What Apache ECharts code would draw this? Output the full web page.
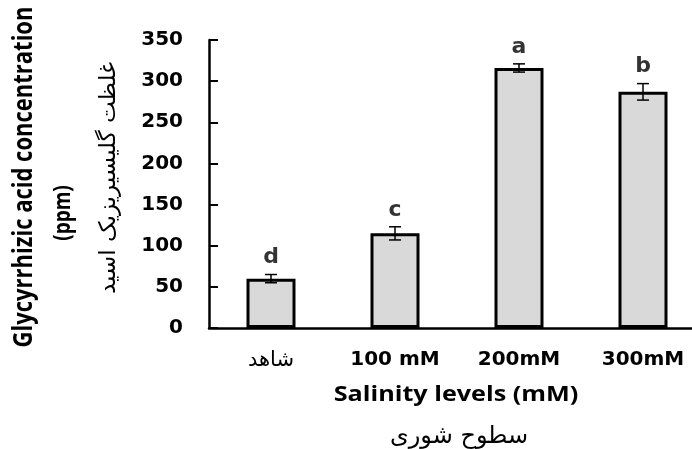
<!DOCTYPE html>
<html>
<head>
<meta charset="utf-8">
<script src="https://cdn.jsdelivr.net/npm/echarts@6/dist/echarts.min.js"></script>
<style>
html,body{margin:0;padding:0;background:#fff;}
#chart{width:692px;height:449px;}
</style>
</head>
<body>
<div id="chart"></div>
<script>
const categories = ['شاهد', '100 mM', '200mM', '300mM'];
const means = [60, 115, 316, 287];
const errors = [5, 8, 5, 10];
const letters = ['d', 'c', 'a', 'b'];
const yMin = 0, yMax = 350, yStep = 50;
const yTitleEn = 'Glycyrrhizic acid concentration';
const yTitleUnit = '(ppm)';
const yTitleFa = 'غلظت گلیسیریزیک اسید';
const xTitleEn = 'Salinity levels (mM)';
const xTitleFa = 'سطوح شوری';

const chart = echarts.init(document.getElementById('chart'), null, {renderer: 'canvas'});

const errData = means.map((m, i) => [i, m - errors[i], m + errors[i]]);
const letterData = means.map((m, i) => ({value: [i, m + errors[i]], letter: letters[i]}));

const option = {
  backgroundColor: '#ffffff',
  animation: false,
  grid: {left: 209, right: -13, top: 40, bottom: 121, outerBoundsMode: 'none', containLabel: false},
  xAxis: {
    type: 'category',
    data: categories,
    axisLine: {show: true, lineStyle: {color: '#000', width: 2.5}},
    axisTick: {show: false},
    axisLabel: {
      margin: 22,
      color: '#000',
      formatter: function (v, i) { return i === 0 ? '{fa|' + v + '}' : '{en|' + v + '}'; },
      rich: {
        fa: {fontFamily: 'DejaVu Sans', fontSize: 21, fontWeight: 'normal', color: '#000'},
        en: {fontFamily: 'DejaVu Sans', fontSize: 20, fontWeight: 'bold', color: '#000'}
      }
    },
    splitLine: {show: false}
  },
  yAxis: {
    type: 'value',
    min: yMin, max: yMax, interval: yStep,
    axisLine: {show: true, lineStyle: {color: '#000', width: 2.5}},
    axisTick: {show: true, inside: true, length: 9, lineStyle: {color: '#000', width: 2}},
    axisLabel: {margin: 26, color: '#000', fontFamily: 'DejaVu Sans', fontSize: 20, fontWeight: 'bold'},
    splitLine: {show: false}
  },
  series: [
    {
      type: 'bar',
      data: means,
      barWidth: 49,
      itemStyle: {color: '#d9d9d9', borderColor: '#000', borderWidth: 3}
    },
    {
      type: 'custom',
      data: errData,
      z: 5,
      renderItem: function (params, api) {
        const lo = api.coord([api.value(0), api.value(1)]);
        const hi = api.coord([api.value(0), api.value(2)]);
        const cap = 6;
        const st = {stroke: '#000', lineWidth: 1.5};
        return {
          type: 'group',
          children: [
            {type: 'line', shape: {x1: lo[0], y1: lo[1], x2: hi[0], y2: hi[1]}, style: st},
            {type: 'line', shape: {x1: lo[0] - cap, y1: lo[1], x2: lo[0] + cap, y2: lo[1]}, style: st},
            {type: 'line', shape: {x1: hi[0] - cap, y1: hi[1], x2: hi[0] + cap, y2: hi[1]}, style: st}
          ]
        };
      }
    },
    {
      type: 'scatter',
      data: letterData,
      symbolSize: 0,
      z: 6,
      label: {
        show: true,
        position: 'top',
        distance: 6,
        formatter: function (p) { return p.data.letter; },
        color: '#000',
        fontFamily: 'DejaVu Sans',
        fontSize: 22,
        fontWeight: 'bold'
      }
    }
  ],
  graphic: [
    {type: 'text', x: 24, y: 177, rotation: Math.PI / 2, scaleY: 1.2,
     style: {text: yTitleEn, font: 'bold 22px "Open Sans"', fill: '#000', align: 'center', verticalAlign: 'middle'}},
    {type: 'text', x: 64, y: 213, rotation: Math.PI / 2, scaleY: 1.2,
     style: {text: yTitleUnit, font: 'bold 19px "Open Sans"', fill: '#000', align: 'center', verticalAlign: 'middle'}},
    {type: 'text', x: 109, y: 178, rotation: Math.PI / 2,
     style: {text: yTitleFa, font: '23px "DejaVu Sans"', fill: '#000', align: 'center', verticalAlign: 'middle'}},
    {type: 'text', x: 456, y: 395, scaleX: 1.2,
     style: {text: xTitleEn, font: 'bold 21px "Open Sans"', fill: '#000', align: 'center', verticalAlign: 'middle'}},
    {type: 'text', x: 459, y: 437,
     style: {text: xTitleFa, font: '24px "DejaVu Sans"', fill: '#000', align: 'center', verticalAlign: 'middle'}}
  ]
};
chart.setOption(option);
</script>
</body>
</html>
